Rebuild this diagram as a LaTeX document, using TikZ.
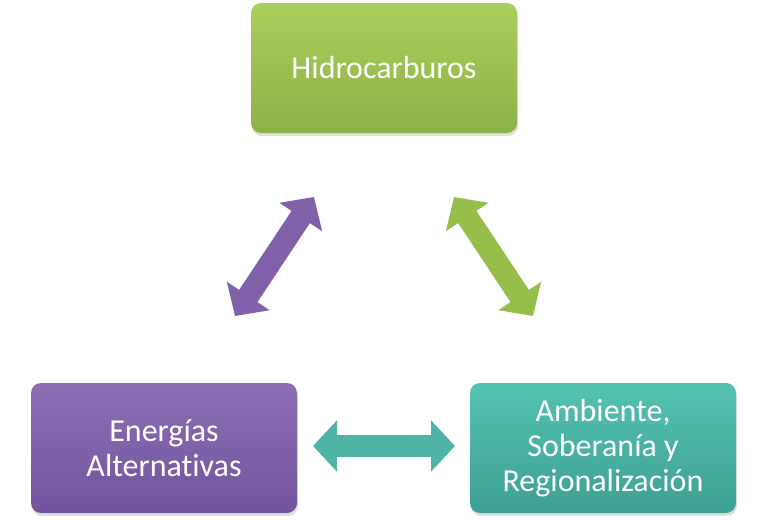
\documentclass[tikz,border=0pt]{standalone}
\usepackage{fontspec}
\setmainfont{Carlito}[Ligatures=NoCommon]
\usetikzlibrary{arrows.meta,shadows}
\definecolor{gtop}{RGB}{170,207,92}
\definecolor{gbot}{RGB}{140,178,70}
\definecolor{ptop}{RGB}{140,110,180}
\definecolor{pbot}{RGB}{114,84,158}
\definecolor{ttop}{RGB}{84,194,178}
\definecolor{tbot}{RGB}{62,160,148}
\definecolor{garrow}{RGB}{150,190,75}
\definecolor{parrow}{RGB}{128,96,168}
\definecolor{tarrow}{RGB}{78,180,166}
\tikzset{
  box/.style={rounded corners=10pt, minimum width=266pt, minimum height=130pt,
    inner sep=0pt, align=center, text=white,
    font=\fontsize{32}{35}\selectfont,
    drop shadow={opacity=0.25, shadow xshift=1pt, shadow yshift=-3pt}},
  dblarrow/.style={line width=22pt,
    {Triangle[width=50pt,length=24pt]}-{Triangle[width=50pt,length=24pt]}}
}
\begin{document}
\begin{tikzpicture}[x=1pt,y=-1pt]
\useasboundingbox (0,0) rectangle (768,520);
\node[box, top color=gtop, bottom color=gbot] (hc) at (384,68) {Hidrocarburos};
\node[box, top color=ptop, bottom color=pbot] (ea) at (164,448) {Energías\\Alternativas};
\node[box, top color=ttop, bottom color=tbot] (am) at (603,448) {Ambiente,\\Soberanía y\\Regionalización};
\coordinate (p1) at (235,316);
\coordinate (p2) at (314,197);
\coordinate (g1) at (454,197);
\coordinate (g2) at (533,316);
\coordinate (t1) at (313,446);
\coordinate (t2) at (455,446);
\draw[dblarrow, draw=parrow, fill=parrow] (p1) -- (p2);
\draw[dblarrow, draw=garrow, fill=garrow] (g1) -- (g2);
\draw[dblarrow, draw=tarrow, fill=tarrow] (t1) -- (t2);
\end{tikzpicture}
\end{document}
